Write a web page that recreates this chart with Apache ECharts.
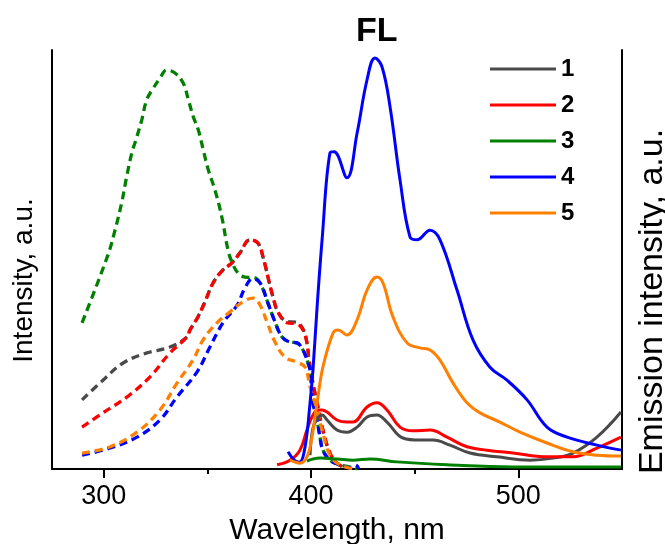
<!DOCTYPE html>
<html>
<head>
<meta charset="utf-8">
<script src="https://cdn.jsdelivr.net/npm/echarts@6/dist/echarts.min.js"></script>
<style>html,body{margin:0;padding:0;background:#fff}#c{width:665px;height:544px}</style>
</head>
<body>
<div id="c"></div>
<script>
// ---- tick labels / names ----
const xLabelValues = [300, 400, 500];
const xMinorTickValues = [350, 450];
const legendNames = ['1', '2', '3', '4', '5'];
const colors = ['#4a4a4a', '#ff0000', '#008000', '#0000ff', '#ff8000'];

// ---- excitation spectra (dashed, left axis) [nm, intensity] ----
const exc1 = [[289.5,16.5],[299.6,21.2],[309.3,25.3],[320.8,27.7],[331.9,29.1],[340.1,31.5],[341.6,33.2],[345.4,36.3],[348.8,39.9],[352.7,44.4],[357.5,47.5],[361.8,49.2],[365.7,51.6],[370.5,54.7],[374.4,53.9],[376.8,50.6],[379.2,45.8],[381.6,41.1],[384.0,37.5],[388.4,35.2],[393.2,35.0],[396.1,33.4],[398.0,30.1],[399.0,26.0],[400.9,20.5],[403.3,14.8],[405.7,9.3],[409.1,3.8],[412.5,1.4],[416.4,0.2]];
const exc2 = [[289.5,10.0],[299.6,13.4],[311.2,17.2],[322.3,22.0],[331.9,27.7],[340.1,31.5],[341.6,33.2],[345.4,36.3],[348.8,39.9],[352.7,44.4],[357.5,47.5],[361.8,49.2],[365.7,51.6],[370.5,54.7],[374.4,53.9],[376.8,50.6],[379.2,45.8],[381.6,41.1],[384.0,37.5],[388.4,34.9],[393.2,34.6],[396.1,33.2],[398.0,30.1],[399.0,26.0],[400.9,20.5],[403.3,14.8],[405.7,9.3],[409.1,3.8],[412.5,1.4],[416.4,0.2]];
const exc3 = [[289.5,34.9],[302.0,51.1],[305.4,57.0],[308.6,63.5],[311.0,69.7],[313.5,75.4],[315.9,79.2],[318.3,83.3],[320.7,88.1],[323.9,90.9],[327.1,93.3],[330.3,95.2],[334.3,94.5],[338.3,92.1],[340.8,88.1],[343.2,84.0],[345.6,80.9],[348.0,76.1],[350.4,71.4],[353.6,66.6],[356.9,60.2],[359.9,52.3],[361.8,49.4],[364.7,46.8],[368.1,45.8],[372.9,45.6],[376.3,43.4],[379.2,39.6],[382.6,35.1],[386.0,31.5],[389.8,30.3],[393.2,30.1],[396.1,28.4],[398.5,25.3],[399.5,23.6],[400.9,15.8],[402.9,11.7],[404.3,7.6],[405.7,4.5],[409.1,2.1],[413.9,1.0],[418.8,0.5],[422.6,0]];
const exc4 = [[289.5,3.3],[303.0,5.0],[316.0,7.6],[327.1,11.7],[335.3,17.2],[345.0,23.2],[351.2,29.1],[357.5,34.9],[364.3,39.1],[368.1,43.2],[371.9,45.4],[375.4,44.4],[379.2,39.6],[382.6,35.1],[386.0,31.5],[389.8,30.3],[393.2,30.1],[396.1,28.4],[398.5,25.3],[399.5,23.6],[400.9,15.8],[402.9,11.7],[404.3,7.6],[405.7,4.5],[409.1,2.1],[413.9,1.0],[418.8,0.3],[421.5,1.0],[423.0,0]];
const exc5 = [[289.5,3.8],[303.0,5.3],[316.0,8.8],[327.1,14.1],[335.3,20.5],[343.0,26.0],[347.9,30.8],[354.6,34.9],[360.9,37.5],[367.1,39.9],[372.0,40.8],[375.4,39.1],[378.7,35.1],[382.6,30.3],[387.4,26.7],[393.2,25.5],[397.1,24.3],[399.5,19.6],[402.9,14.1],[405.3,9.3],[409.1,3.3],[413.9,1.0],[421.2,0]];

// ---- emission spectra (solid, right axis) [nm, intensity] ----
const em1 = [[399.5,3.3],[400.9,9.8],[403.3,12.2],[405.3,12.9],[407.7,11.7],[412.5,9.3],[417.3,8.8],[422.2,10.0],[427.0,12.4],[431.8,12.9],[436.6,11.2],[444.3,7.4],[452.5,6.9],[458.8,6.9],[467.0,5.7],[476.7,3.8],[489.7,2.9],[505.6,2.1],[516.7,2.6],[526.4,3.8],[537.9,7.6],[549.5,13.6]];
const em2 = [[383.6,1.0],[389.8,2.1],[394.6,4.5],[398.0,9.3],[400.4,12.4],[403.3,14.1],[405.3,14.1],[407.7,13.6],[412.5,11.7],[417.3,11.2],[420.2,11.2],[427.0,14.8],[431.8,15.8],[436.6,14.1],[442.9,10.0],[449.2,9.1],[457.4,9.3],[465.6,7.6],[475.2,5.3],[484.9,4.5],[497.4,3.8],[513.8,2.9],[526.4,2.9],[537.9,5.0],[549.5,7.6]];
const em3 = [[398.0,1.9],[404.3,2.6],[412.5,2.4],[420.2,2.1],[428.4,2.4],[441.4,1.7],[465.6,1.0],[497.4,0.5],[549.5,0.5]];
const em4 = [[388.9,4.1],[393.7,1.7],[394.6,1.7],[397.1,5.3],[399.5,15.8],[400.9,23.6],[402.9,38.7],[405.3,54.7],[409.1,75.4],[411.1,75.7],[417.3,69.5],[422.2,80.2],[427.0,92.9],[430.8,98.1],[434.2,96.0],[438.1,86.4],[442.9,69.0],[447.7,55.4],[451.1,54.7],[457.4,57.0],[462.2,54.7],[470.4,42.7],[478.1,30.8],[486.3,24.3],[494.5,21.2],[504.2,16.5],[513.8,10.0],[523.5,7.6],[537.9,5.7],[549.5,4.5]];
const em5 = [[389.8,2.1],[394.6,1.4],[398.0,2.9],[400.4,7.6],[402.9,15.8],[405.7,24.3],[410.6,32.5],[413.0,33.2],[417.3,32.0],[422.2,35.6],[427.0,42.7],[431.8,45.8],[434.7,44.4],[439.5,36.3],[446.3,30.1],[452.5,28.9],[457.4,28.4],[462.2,26.0],[468.5,20.5],[475.2,15.8],[481.5,13.4],[491.1,11.2],[500.8,8.8],[513.8,6.2],[526.4,4.1],[537.9,3.3],[549.5,3.1]];

const excitation = [exc1, exc2, exc3, exc4, exc5];
const emission = [em1, em2, em3, em4, em5];

const FONT = 'Liberation Sans, Arial, Helvetica, sans-serif';
const chart = echarts.init(document.getElementById('c'), null, {renderer: 'canvas'});

const series = [];
excitation.forEach((d, i) => {
  series.push({
    name: 'exc' + legendNames[i], type: 'line', data: d, xAxisIndex: 0, yAxisIndex: 0,
    smooth: 0.4, showSymbol: false, symbol: 'none',
    lineStyle: {color: colors[i], width: 3.3, type: [8, 5]},
    itemStyle: {color: colors[i]}, z: 2
  });
});
emission.forEach((d, i) => {
  series.push({
    name: legendNames[i], type: 'line', data: d, xAxisIndex: 0, yAxisIndex: 1,
    smooth: 0.4, showSymbol: false, symbol: 'none',
    lineStyle: {color: colors[i], width: 3},
    itemStyle: {color: colors[i]}, z: 3
  });
});

chart.setOption({
  animation: false,
  backgroundColor: '#fff',
  title: {
    text: 'FL', left: 351, top: 10,
    textStyle: {fontFamily: FONT, fontSize: 34, fontWeight: 'bold', color: '#000'}
  },
  legend: {
    data: legendNames, orient: 'vertical', left: 485, top: 52,
    icon: 'rect', itemWidth: 66, itemHeight: 3, itemGap: 12,
    textStyle: {fontFamily: FONT, fontSize: 24, fontWeight: 'bold', color: '#000'}
  },
  grid: {left: 52, right: 43, top: 50, bottom: 75, containLabel: false, outerBoundsMode: 'none'},
  xAxis: [{
    type: 'value', min: 275, max: 550,
    name: 'Wavelength, nm', nameLocation: 'middle', nameGap: 47,
    nameTextStyle: {fontFamily: FONT, fontSize: 30, color: '#000'},
    axisLine: {show: true, lineStyle: {color: '#000', width: 2}},
    axisTick: {show: true, customValues: xLabelValues, length: 9, lineStyle: {color: '#000', width: 2}},
    axisLabel: {show: true, customValues: xLabelValues, margin: 14, fontFamily: FONT, fontSize: 27, color: '#000'},
    splitLine: {show: false}
  }, {
    type: 'value', min: 275, max: 550, position: 'bottom',
    axisLine: {show: false},
    axisTick: {show: true, customValues: xMinorTickValues, length: 5, lineStyle: {color: '#000', width: 2}},
    axisLabel: {show: false},
    splitLine: {show: false}
  }],
  yAxis: [{
    type: 'value', min: 0, max: 100, position: 'left',
    name: 'Intensity, a.u.', nameLocation: 'middle', nameGap: 14,
    nameTextStyle: {fontFamily: FONT, fontSize: 28, color: '#000', padding: [0, 42, 0, 0]},
    axisLine: {show: true, lineStyle: {color: '#000', width: 2}},
    axisTick: {show: false}, axisLabel: {show: false}, splitLine: {show: false}
  }, {
    type: 'value', min: 0, max: 100, position: 'right',
    name: 'Emission intensity, a.u.', nameLocation: 'middle', nameGap: 14,
    nameTextStyle: {fontFamily: FONT, fontSize: 34, color: '#000', padding: [0, 84, 0, 0]},
    axisLine: {show: true, lineStyle: {color: '#000', width: 2}},
    axisTick: {show: false}, axisLabel: {show: false}, splitLine: {show: false}
  }],
  series: series
});
</script>
</body>
</html>
